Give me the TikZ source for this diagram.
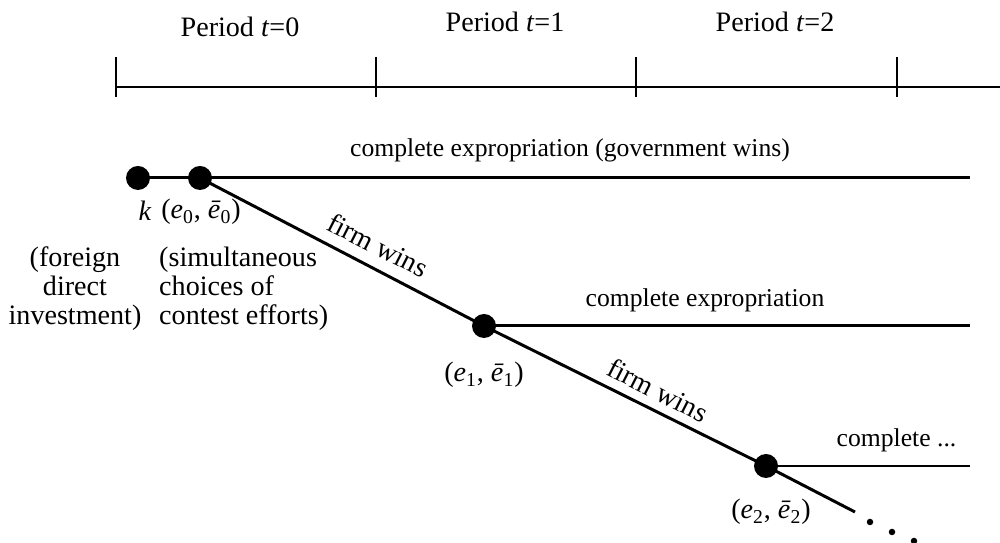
\documentclass[tikz,border=0pt]{standalone}
\usepackage{fontspec}
\setmainfont{Liberation Serif}
\usepackage{tikz}
\tikzset{
	every node/.style={font=\fontsize{16}{16.5}\selectfont},
	outcome/.style={font=\fontsize{14.6}{16}\selectfont},
	dot/.style={circle, fill=black, inner sep=0pt, minimum size=0.48cm},
	branch/.style={line width=1.7pt},
	timeline/.style={line width=0.8pt}
}

\begin{document}
\begin{tikzpicture}
	\useasboundingbox (0,0) rectangle (20,10.86);
	% axe des periodes
	\coordinate (t0) at (2.32,9.12);
	\coordinate (t1) at (7.52,9.12);
	\coordinate (t2) at (12.72,9.12);
	\coordinate (t3) at (17.94,9.12);
	\coordinate (tend) at (20,9.12);
	\draw[timeline] (t0) -- (tend);
	\foreach \t in {t0,t1,t2,t3}
		\draw[timeline] ([yshift=0.6cm]\t) -- ([yshift=-0.2cm]\t);
	\node (p0) at (4.8,10.33) {Period \textit{t}=0};
	\node (p1) at (10.1,10.43) {Period \textit{t}=1};
	\node (p2) at (15.5,10.43) {Period \textit{t}=2};
	% noeuds
	\node[dot] (k) at (2.76,7.3) {};
	\node[dot] (e0) at (4.0,7.3) {};
	\node[dot] (e1) at (9.68,4.34) {};
	\node[dot] (e2) at (15.32,1.54) {};
	\coordinate (x0) at (19.4,7.3);
	\coordinate (x1) at (19.4,4.34);
	\coordinate (x2) at (19.4,1.54);
	\coordinate (w) at (17.1,0.62);
	\draw[branch] (k.center) -- (x0);
	\draw[branch] (e0.center) -- (e1.center) -- (e2.center) -- (w);
	\draw[branch] (e1.center) -- (x1);
	\draw[branch] (e2.center) -- (x2);
	\fill (17.4,0.42) circle (0.065) (17.84,0.22) circle (0.065) (18.28,0.04) circle (0.065);
	% etiquettes
	\node (lk) at (2.9,6.64) {\textit{k}};
	\node (le0) at (4.02,6.62) {(\textit{e}\textsubscript{0}, \textit{\={e}}\textsubscript{0})};
	\node (le1) at (9.68,3.36) {(\textit{e}\textsubscript{1}, \textit{\={e}}\textsubscript{1})};
	\node (le2) at (15.42,0.62) {(\textit{e}\textsubscript{2}, \textit{\={e}}\textsubscript{2})};
	\node[outcome] (g0) at (11.4,7.86) {complete expropriation (government wins)};
	\node[outcome] (g1) at (14.1,4.86) {complete expropriation};
	\node[outcome] (g2) at (17.93,2.06) {complete ...};
	\node[rotate=-27] (f0) at (7.56,5.96) {firm wins};
	\node[rotate=-27] (f1) at (13.16,3.06) {firm wins};
	\node[align=center] (fdi) at (1.5,5.08) {(foreign\\direct\\investment)};
	\node[align=left, anchor=west] (sim) at (3.06,5.08) {(simultaneous\\choices of\\contest efforts)};
\end{tikzpicture}
\end{document}
